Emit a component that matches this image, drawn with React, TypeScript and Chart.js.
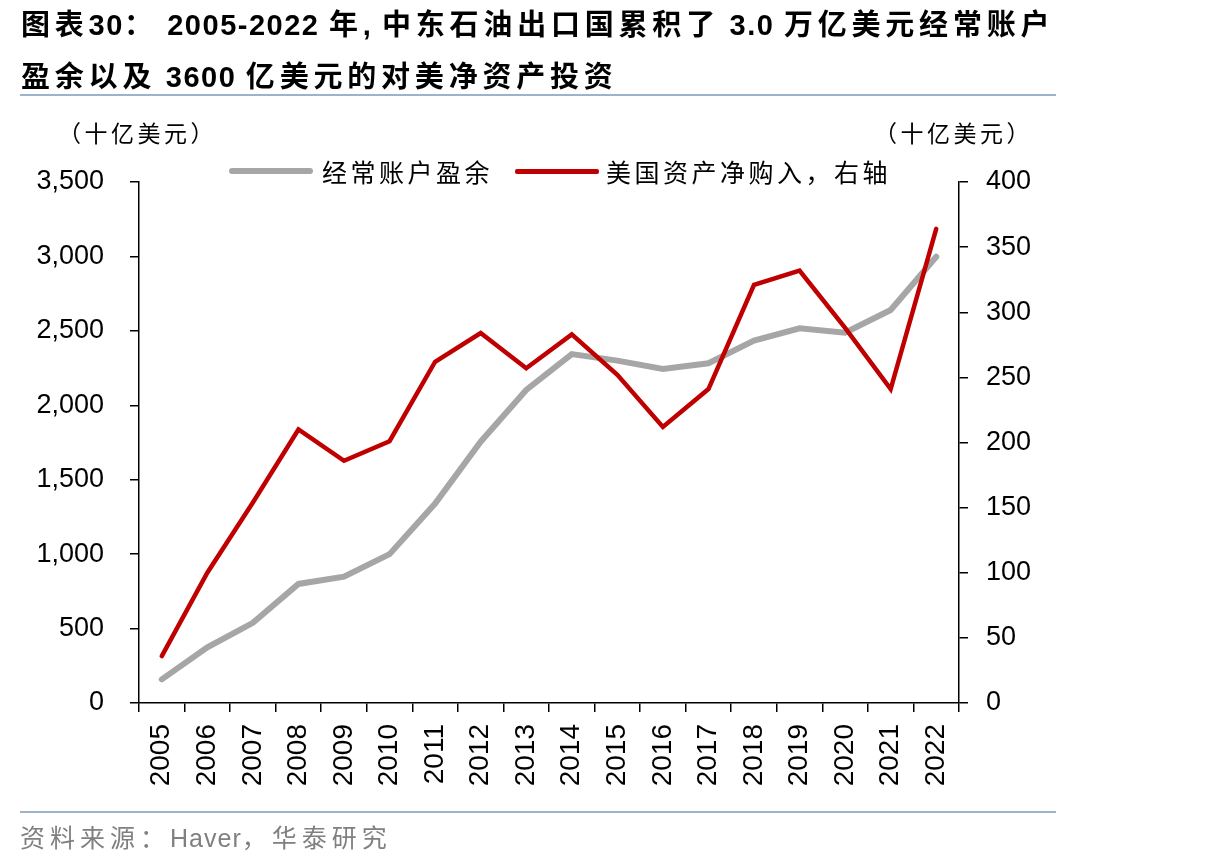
import React, { useEffect, useRef } from "react";
import { Chart, registerables } from "chart.js";

Chart.register(...registerables);

// Years on the category axis
const years = [
  "2005", "2006", "2007", "2008", "2009", "2010", "2011", "2012", "2013",
  "2014", "2015", "2016", "2017", "2018", "2019", "2020", "2021", "2022",
];

// Cumulative current account surplus, billions of USD (left axis)
const currentAccountSurplus = [
  159, 374, 539, 800, 849, 1000, 1340, 1755, 2103,
  2344, 2300, 2244, 2282, 2434, 2517, 2488, 2640, 2998,
];

// Net purchases of US assets, billions of USD (right axis)
const usNetPurchases = [
  36, 100, 154, 210, 186, 201, 262, 284, 257,
  283, 252, 212, 241, 321, 332, 288, 241, 364,
];

const leftTicks = { min: 0, max: 3500, step: 500 };
const rightTicks = { min: 0, max: 400, step: 50 };

const seriesNames = ["经常账户盈余", "美国资产净购入，右轴"];
const seriesColors = ["#A6A6A6", "#C00000"];

const titleLines = [
  "图表30： 2005-2022 年, 中东石油出口国累积了 3.0 万亿美元经常账户",
  "盈余以及 3600 亿美元的对美净资产投资",
];
const unitLabel = "（十亿美元）";
const sourceNote = "资料来源：Haver，华泰研究";

const W = 1206;
const H = 867;
const PLOT_LEFT = 139;
const PLOT_RIGHT = 959;
const PLOT_TOP = 182;
const PLOT_BOTTOM = 703;

const LATIN = '"Liberation Sans", Arial, "Noto Sans CJK SC", sans-serif';
const CJK = '"Noto Sans CJK SC", "Liberation Sans", sans-serif';

// Split a string into runs of CJK / non-CJK characters so each run can get its own spacing
function splitRuns(text: string): { s: string; cjk: boolean }[] {
  const runs: { s: string; cjk: boolean }[] = [];
  for (const ch of text) {
    const cjk = /[\u3000-\u303f\u4e00-\u9fff\uff00-\uffef]/.test(ch);
    const last = runs[runs.length - 1];
    if (last && last.cjk === cjk) last.s += ch;
    else runs.push({ s: ch, cjk });
  }
  return runs;
}

function MixedText({
  text,
  cjkSpacing,
  latinSpacing,
}: {
  text: string;
  cjkSpacing: number;
  latinSpacing: number;
}) {
  return (
    <>
      {splitRuns(text).map((r, i) => (
        <span
          key={i}
          style={{
            letterSpacing: r.cjk ? cjkSpacing : latinSpacing,
            fontFamily: r.cjk ? CJK : LATIN,
          }}
        >
          {r.s}
        </span>
      ))}
    </>
  );
}

export default function App() {
  const canvasRef = useRef<HTMLCanvasElement | null>(null);

  useEffect(() => {
    const canvas = canvasRef.current;
    if (!canvas) return;
    const tickFont = { family: LATIN, size: 27 };
    const chart = new Chart(canvas, {
      type: "line",
      data: {
        labels: years,
        datasets: [
          {
            label: seriesNames[0],
            data: currentAccountSurplus,
            borderColor: seriesColors[0],
            backgroundColor: seriesColors[0],
            borderWidth: 6,
            pointRadius: 0,
            tension: 0,
            borderCapStyle: "round",
            borderJoinStyle: "miter",
            yAxisID: "y",
            order: 2,
          },
          {
            label: seriesNames[1],
            data: usNetPurchases,
            borderColor: seriesColors[1],
            backgroundColor: seriesColors[1],
            borderWidth: 4.5,
            pointRadius: 0,
            tension: 0,
            borderCapStyle: "round",
            borderJoinStyle: "miter",
            yAxisID: "y1",
            order: 1,
          },
        ],
      },
      options: {
        responsive: false,
        animation: false,
        events: [],
        layout: { padding: { left: 0, right: 0, top: PLOT_TOP, bottom: 0 } },
        plugins: {
          legend: { display: false },
          tooltip: { enabled: false },
        },
        scales: {
          x: {
            offset: true,
            grid: {
              offset: true,
              drawOnChartArea: false,
              drawTicks: true,
              tickLength: 9,
              color: "#000",
              lineWidth: 1.5,
            },
            border: { display: true, color: "#000", width: 1.5 },
            ticks: {
              color: "#000",
              font: { family: LATIN, size: 28 },
              maxRotation: 90,
              minRotation: 90,
              autoSkip: false,
              padding: 12,
            },
            afterFit: (scale: any) => {
              scale.height = H - PLOT_BOTTOM;
            },
          },
          y: {
            position: "left",
            min: leftTicks.min,
            max: leftTicks.max,
            grid: {
              drawOnChartArea: false,
              drawTicks: true,
              tickLength: 9,
              color: "#000",
              lineWidth: 1.5,
            },
            border: { display: true, color: "#000", width: 1.5 },
            ticks: {
              stepSize: leftTicks.step,
              color: "#000",
              font: tickFont,
              padding: 26,
              callback: (v: any) => Number(v).toLocaleString("en-US"),
            },
            afterFit: (scale: any) => {
              scale.width = PLOT_LEFT;
            },
          },
          y1: {
            position: "right",
            min: rightTicks.min,
            max: rightTicks.max,
            grid: {
              drawOnChartArea: false,
              drawTicks: true,
              tickLength: 9,
              color: "#000",
              lineWidth: 1.5,
            },
            border: { display: true, color: "#000", width: 1.5 },
            ticks: {
              stepSize: rightTicks.step,
              color: "#000",
              font: tickFont,
              padding: 18,
            },
            afterFit: (scale: any) => {
              scale.width = W - PLOT_RIGHT;
            },
          },
        },
      },
    });
    return () => chart.destroy();
  }, []);

  const abs = (style: React.CSSProperties): React.CSSProperties => ({
    position: "absolute",
    whiteSpace: "nowrap",
    margin: 0,
    ...style,
  });

  const titleStyle: React.CSSProperties = {
    fontWeight: "bold",
    fontSize: 29,
    color: "#000",
    lineHeight: "36px",
  };

  const unitStyle: React.CSSProperties = {
    fontFamily: CJK,
    fontSize: 23,
    letterSpacing: 3.5,
    color: "#000",
    lineHeight: "30px",
  };

  const legendText: React.CSSProperties = {
    fontFamily: CJK,
    fontSize: 25,
    letterSpacing: 3.5,
    color: "#000",
    lineHeight: "32px",
  };

  return (
    <div
      style={{
        position: "absolute",
        left: 0,
        top: 0,
        width: W,
        height: H,
        background: "#fff",
        overflow: "hidden",
      }}
    >
      <canvas
        ref={canvasRef}
        width={W}
        height={H}
        style={{ position: "absolute", left: 0, top: 0, width: W, height: H }}
      />
      <div style={abs({ ...titleStyle, left: 21, top: 4 })}>
        <MixedText text={titleLines[0]} cjkSpacing={4.8} latinSpacing={1.5} />
      </div>
      <div style={abs({ ...titleStyle, left: 21, top: 56 })}>
        <MixedText text={titleLines[1]} cjkSpacing={4.8} latinSpacing={1.5} />
      </div>
      <div
        style={abs({
          left: 20,
          top: 94,
          width: 1036,
          height: 2,
          background: "#9DB2CB",
        })}
      />
      <div style={abs({ ...unitStyle, left: 58, top: 117 })}>{unitLabel}</div>
      <div style={abs({ ...unitStyle, left: 874, top: 117 })}>{unitLabel}</div>
      {/* Legend */}
      <div
        style={abs({
          left: 229,
          top: 168,
          width: 84,
          height: 6,
          borderRadius: 3,
          background: seriesColors[0],
        })}
      />
      <div style={abs({ ...legendText, left: 322, top: 155 })}>
        {seriesNames[0]}
      </div>
      <div
        style={abs({
          left: 515,
          top: 169,
          width: 84,
          height: 4.5,
          borderRadius: 2,
          background: seriesColors[1],
        })}
      />
      <div style={abs({ ...legendText, left: 606, top: 155 })}>
        {seriesNames[1]}
      </div>
      <div
        style={abs({
          left: 20,
          top: 811,
          width: 1036,
          height: 2,
          background: "#9DB2CB",
        })}
      />
      <div
        style={abs({
          left: 20,
          top: 819,
          fontSize: 25,
          color: "#808080",
          lineHeight: "34px",
        })}
      >
        <MixedText text={sourceNote} cjkSpacing={5} latinSpacing={1} />
      </div>
    </div>
  );
}
